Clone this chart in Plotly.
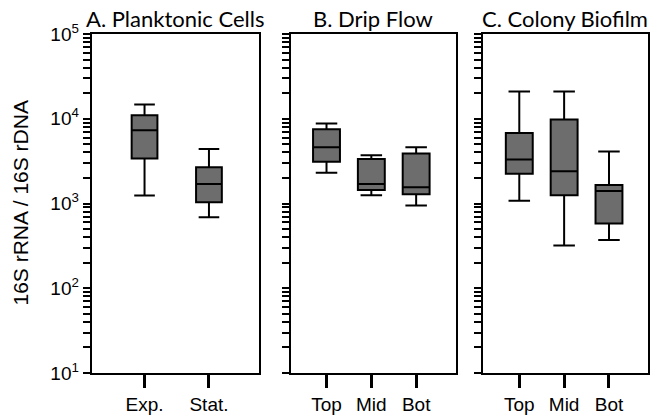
import plotly.graph_objects as go

# Panel A
a_cats = ["Exp.", "Stat."]
a_low = [1240, 690]
a_q1 = [3400, 1035]
a_med = [7300, 1700]
a_q3 = [11000, 2680]
a_high = [14700, 4400]

# Panel B
b_cats = ["Top", "Mid", "Bot"]
b_low = [2300, 1250, 950]
b_q1 = [3100, 1440, 1290]
b_med = [4600, 1700, 1550]
b_q3 = [7500, 3350, 3900]
b_high = [8800, 3700, 4600]

# Panel C
c_cats = ["Top", "Mid", "Bot"]
c_low = [1080, 320, 370]
c_q1 = [2250, 1250, 580]
c_med = [3300, 2400, 1400]
c_q3 = [6800, 9800, 1650]
c_high = [21000, 21000, 4100]

panels = [
    (a_cats, a_low, a_q1, a_med, a_q3, a_high, "A. Planktonic Cells"),
    (b_cats, b_low, b_q1, b_med, b_q3, b_high, "B. Drip Flow"),
    (c_cats, c_low, c_q1, c_med, c_q3, c_high, "C. Colony Biofilm"),
]

major_vals = [10, 100, 1000, 10000, 100000]
major_text = ["10<sup>1</sup>", "10<sup>2</sup>", "10<sup>3</sup>", "10<sup>4</sup>", "10<sup>5</sup>"]
minor_vals = [m * d for d in [10, 100, 1000, 10000] for m in range(2, 10)]

all_vals = sorted(major_vals + minor_vals)
label_of = dict(zip(major_vals, major_text))
all_text = [label_of.get(v, "") for v in all_vals]

W, H = 650, 415
doms = [(92 / W, 260 / W), (292 / W, 457 / W), (484 / W, 1.0)]
xranges = [[-0.82, 1.78], [-0.79, 2.88], [-0.82, 2.87]]
bwidths = [0.40, 0.60, 0.60]

fig = go.Figure()
for i, (cats, lo, q1, med, q3, hi, title) in enumerate(panels):
    n = i + 1
    xa = "x" if n == 1 else f"x{n}"
    ya = "y" if n == 1 else f"y{n}"
    fig.add_trace(go.Box(
        x=list(range(len(cats))), lowerfence=lo, q1=q1, median=med, q3=q3, upperfence=hi,
        xaxis=xa, yaxis=ya, fillcolor="#6d6d6d", line=dict(color="black", width=2),
        width=bwidths[i], whiskerwidth=0.8, showlegend=False, hoverinfo="skip",
    ))
    xkey = "xaxis" if n == 1 else f"xaxis{n}"
    ykey = "yaxis" if n == 1 else f"yaxis{n}"
    fig.layout[xkey] = dict(
        domain=list(doms[i]), anchor=ya, range=xranges[i],
        tickvals=list(range(len(cats))), ticktext=cats,
        ticks="outside", ticklen=13, tickwidth=3, tickcolor="black",
        showline=True, linecolor="black", linewidth=2, mirror=True,
        showgrid=False, zeroline=False,
        tickfont=dict(family="Liberation Sans, Arial", size=19, color="black"),
    )
    fig.layout[ykey] = dict(
        domain=[0, 1], anchor=xa, type="log", range=[1, 5],
        tickmode="array", tickvals=all_vals, ticktext=all_text,
        showticklabels=(n == 1),
        ticks="outside", ticklen=7, tickwidth=1.5, tickcolor="black",
        showline=True, linecolor="black", linewidth=2, mirror=True,
        showgrid=False, zeroline=False,
        tickfont=dict(family="Liberation Sans, Arial", size=19, color="black"),
    )
    fig.add_annotation(
        text=title, xref="paper", yref="paper",
        x=(doms[i][0] + doms[i][1]) / 2, y=1.0, yshift=0,
        xanchor="center", yanchor="bottom", showarrow=False,
        font=dict(family="Lato, Open Sans", size=22, color="black"),
    )

fig.add_annotation(
    text="16S rRNA / 16S rDNA", xref="paper", yref="paper",
    x=0.0, xshift=20, y=0.5, yshift=0, xanchor="center", yanchor="middle",
    textangle=-90, showarrow=False,
    font=dict(family="Liberation Sans, Arial", size=21, color="black"),
)

fig.update_layout(
    width=W, height=H, margin=dict(l=0, r=0, t=34, b=35),
    plot_bgcolor="white", paper_bgcolor="white",
)
fig.write_html("out.html")
